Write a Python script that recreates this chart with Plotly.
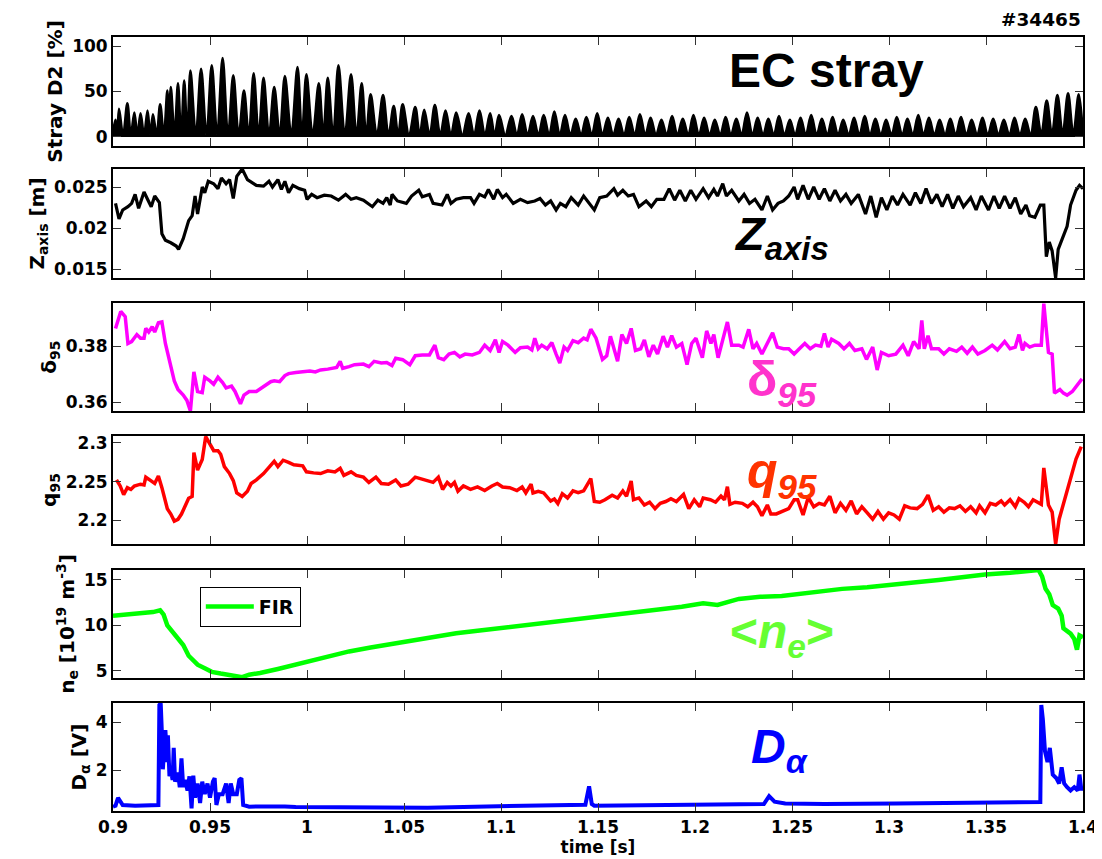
import plotly.graph_objects as go
from plotly.subplots import make_subplots

FONT = "Liberation Sans, Arial, sans-serif"
AXFONT = "DejaVu Sans, Verdana, sans-serif"

# ---------------- data ----------------
x_tick_vals = [0.9, 0.95, 1.0, 1.05, 1.1, 1.15, 1.2, 1.25, 1.3, 1.35, 1.4]
x_tick_text = ["0.9", "0.95", "1", "1.05", "1.1", "1.15", "1.2", "1.25", "1.3", "1.35", "1.4"]

# EC stray D2 [%]
stray_t = [
    0.9000, 0.9013, 0.9022, 0.9031, 0.9052, 0.9074, 0.9092, 0.9110, 0.9126, 0.9142,
    0.9160, 0.9178, 0.9192, 0.9206, 0.9225, 0.9243, 0.9262, 0.9280, 0.9289, 0.9298,
    0.9317, 0.9335, 0.9351, 0.9367, 0.9383, 0.9399, 0.9427, 0.9454, 0.9482, 0.9509,
    0.9537, 0.9565, 0.9593, 0.9620, 0.9648, 0.9675, 0.9700, 0.9725, 0.9751, 0.9776,
    0.9804, 0.9831, 0.9859, 0.9886, 0.9919, 0.9951, 0.9974, 0.9997, 1.0029, 1.0061,
    1.0084, 1.0107, 1.0135, 1.0162, 1.0195, 1.0227, 1.0255, 1.0282, 1.0305, 1.0328,
    1.0360, 1.0392, 1.0420, 1.0447, 1.0470, 1.0493, 1.0526, 1.0558, 1.0581, 1.0604,
    1.0632, 1.0659, 1.0687, 1.0714, 1.0742, 1.0769, 1.0801, 1.0833, 1.0861, 1.0889,
    1.0917, 1.0944, 1.0967, 1.0990, 1.1022, 1.1054, 1.1082, 1.1109, 1.1137, 1.1165,
    1.1193, 1.1220, 1.1248, 1.1275, 1.1303, 1.1330, 1.1358, 1.1385, 1.1413, 1.1440,
    1.1468, 1.1496, 1.1523, 1.1551, 1.1578, 1.1606, 1.1634, 1.1661, 1.1689, 1.1716,
    1.1744, 1.1771, 1.1799, 1.1827, 1.1854, 1.1882, 1.1909, 1.1937, 1.1965, 1.1992,
    1.2020, 1.2047, 1.2075, 1.2102, 1.2130, 1.2158, 1.2185, 1.2213, 1.2240, 1.2268,
    1.2296, 1.2323, 1.2351, 1.2378, 1.2406, 1.2433, 1.2461, 1.2489, 1.2516, 1.2544,
    1.2571, 1.2599, 1.2627, 1.2654, 1.2682, 1.2709, 1.2737, 1.2764, 1.2792, 1.2820,
    1.2847, 1.2875, 1.2902, 1.2930, 1.2958, 1.2985, 1.3013, 1.3040, 1.3068, 1.3095,
    1.3123, 1.3151, 1.3178, 1.3206, 1.3234, 1.3261, 1.3289, 1.3316, 1.3344, 1.3371,
    1.3399, 1.3426, 1.3454, 1.3482, 1.3509, 1.3537, 1.3564, 1.3592, 1.3620, 1.3647,
    1.3675, 1.3702, 1.3730, 1.3757, 1.3785, 1.3813, 1.3840, 1.3868, 1.3895, 1.3923,
    1.3950, 1.3978, 1.4000,
]
stray_v = [
    5, 19, 3, 31, 2, 37, 2, 27, 2, 26,
    2, 29, 2, 25, 2, 36, 2, 51, 8, 55,
    3, 59, 2, 62, 2, 73, 2, 75, 2, 79,
    2, 87, 2, 68, 2, 51, 2, 70, 2, 65,
    2, 55, 2, 67, 2, 77, 2, 69, 2, 59,
    2, 65, 2, 79, 2, 69, 2, 59, 2, 47,
    2, 46, 2, 34, 2, 36, 2, 33, 2, 30,
    2, 35, 2, 29, 2, 27, 2, 26, 2, 29,
    2, 26, 2, 24, 2, 23, 2, 25, 2, 23,
    2, 24, 2, 28, 2, 24, 2, 20, 2, 22,
    2, 26, 2, 21, 2, 20, 2, 22, 2, 25,
    2, 21, 2, 19, 2, 23, 2, 20, 2, 24,
    2, 21, 2, 19, 2, 22, 2, 20, 2, 27,
    2, 21, 2, 20, 2, 23, 2, 19, 2, 21,
    2, 24, 2, 20, 2, 22, 2, 19, 2, 21,
    2, 23, 2, 20, 2, 19, 2, 22, 2, 20,
    2, 24, 2, 21, 2, 19, 2, 20, 2, 22,
    2, 19, 2, 21, 2, 20, 2, 19, 2, 21,
    2, 20, 2, 33, 3, 40, 3, 46, 3, 48,
    3, 47, 2,
]

# Z_axis [m]
z_t = [
    0.9013, 0.9031, 0.9050, 0.9077, 0.9096, 0.9114, 0.9132, 0.9160, 0.9178, 0.9197,
    0.9215, 0.9239, 0.9252, 0.9270, 0.9298, 0.9326, 0.9338, 0.9362, 0.9390, 0.9408,
    0.9423, 0.9436, 0.9460, 0.9473, 0.9491, 0.9519, 0.9541, 0.9559, 0.9583, 0.9601,
    0.9620, 0.9638, 0.9666, 0.9693, 0.9739, 0.9776, 0.9804, 0.9822, 0.9850, 0.9868,
    0.9886, 0.9905, 0.9927, 0.9960, 0.9988, 1.0000, 1.0024, 1.0052, 1.0089, 1.0125,
    1.0162, 1.0199, 1.0227, 1.0254, 1.0291, 1.0337, 1.0365, 1.0392, 1.0411, 1.0429,
    1.0438, 1.0466, 1.0512, 1.0539, 1.0576, 1.0594, 1.0631, 1.0650, 1.0696, 1.0723,
    1.0742, 1.0769, 1.0806, 1.0843, 1.0861, 1.0889, 1.0916, 1.0935, 1.0962, 1.0981,
    1.1008, 1.1027, 1.1063, 1.1100, 1.1137, 1.1174, 1.1201, 1.1229, 1.1256, 1.1284,
    1.1306, 1.1334, 1.1362, 1.1398, 1.1426, 1.1454, 1.1481, 1.1509, 1.1545, 1.1582,
    1.1601, 1.1628, 1.1656, 1.1683, 1.1711, 1.1748, 1.1775, 1.1803, 1.1840, 1.1867,
    1.1895, 1.1922, 1.1950, 1.1978, 1.2005, 1.2042, 1.2070, 1.2097, 1.2116, 1.2143,
    1.2162, 1.2189, 1.2226, 1.2253, 1.2281, 1.2309, 1.2345, 1.2373, 1.2400, 1.2428,
    1.2456, 1.2483, 1.2511, 1.2529, 1.2557, 1.2584, 1.2612, 1.2640, 1.2667, 1.2695,
    1.2722, 1.2750, 1.2778, 1.2805, 1.2842, 1.2879, 1.2906, 1.2934, 1.2961, 1.2989,
    1.3017, 1.3044, 1.3072, 1.3109, 1.3136, 1.3164, 1.3191, 1.3219, 1.3247, 1.3274,
    1.3302, 1.3329, 1.3357, 1.3384, 1.3421, 1.3449, 1.3476, 1.3513, 1.3541, 1.3568,
    1.3596, 1.3624, 1.3651, 1.3679, 1.3706, 1.3725, 1.3752, 1.3780, 1.3798, 1.3811,
    1.3826, 1.3841, 1.3859, 1.3872, 1.3899, 1.3918, 1.3936, 1.3964, 1.3982, 1.4000,
]
z_v = [
    0.0230, 0.0211, 0.0222, 0.0226, 0.0230, 0.0241, 0.0224, 0.0244, 0.0235, 0.0226,
    0.0239, 0.0231, 0.0193, 0.0185, 0.0182, 0.0178, 0.0174, 0.0187, 0.0209, 0.0215,
    0.0239, 0.0217, 0.0250, 0.0243, 0.0257, 0.0254, 0.0248, 0.0261, 0.0254, 0.0259,
    0.0236, 0.0263, 0.0272, 0.0259, 0.0252, 0.0251, 0.0257, 0.0250, 0.0259, 0.0247,
    0.0257, 0.0243, 0.0252, 0.0248, 0.0246, 0.0235, 0.0241, 0.0237, 0.0240, 0.0239,
    0.0234, 0.0241, 0.0235, 0.0237, 0.0234, 0.0226, 0.0234, 0.0230, 0.0237, 0.0228,
    0.0241, 0.0233, 0.0230, 0.0239, 0.0246, 0.0238, 0.0241, 0.0230, 0.0228, 0.0241,
    0.0230, 0.0235, 0.0237, 0.0237, 0.0230, 0.0241, 0.0238, 0.0247, 0.0235, 0.0247,
    0.0237, 0.0241, 0.0230, 0.0235, 0.0231, 0.0233, 0.0236, 0.0228, 0.0233, 0.0222,
    0.0230, 0.0226, 0.0237, 0.0228, 0.0239, 0.0230, 0.0222, 0.0237, 0.0239, 0.0248,
    0.0240, 0.0246, 0.0239, 0.0241, 0.0226, 0.0233, 0.0226, 0.0235, 0.0235, 0.0248,
    0.0234, 0.0246, 0.0233, 0.0246, 0.0235, 0.0248, 0.0237, 0.0247, 0.0239, 0.0254,
    0.0239, 0.0246, 0.0233, 0.0241, 0.0230, 0.0235, 0.0222, 0.0239, 0.0222, 0.0230,
    0.0233, 0.0239, 0.0250, 0.0235, 0.0252, 0.0235, 0.0250, 0.0235, 0.0248, 0.0233,
    0.0246, 0.0233, 0.0241, 0.0230, 0.0241, 0.0217, 0.0239, 0.0213, 0.0237, 0.0222,
    0.0239, 0.0228, 0.0241, 0.0228, 0.0243, 0.0230, 0.0248, 0.0230, 0.0241, 0.0226,
    0.0241, 0.0224, 0.0239, 0.0226, 0.0237, 0.0222, 0.0239, 0.0222, 0.0239, 0.0224,
    0.0239, 0.0224, 0.0237, 0.0217, 0.0228, 0.0215, 0.0213, 0.0228, 0.0228, 0.0165,
    0.0183, 0.0172, 0.0139, 0.0174, 0.0191, 0.0202, 0.0228, 0.0246, 0.0252, 0.0248,
]

# delta_95
d95_t = [
    0.9013, 0.9040, 0.9063, 0.9077, 0.9096, 0.9123, 0.9142, 0.9160, 0.9169, 0.9184,
    0.9202, 0.9215, 0.9234, 0.9252, 0.9270, 0.9289, 0.9316, 0.9335, 0.9362, 0.9381,
    0.9399, 0.9417, 0.9436, 0.9460, 0.9473, 0.9500, 0.9519, 0.9541, 0.9565, 0.9583,
    0.9611, 0.9629, 0.9657, 0.9675, 0.9702, 0.9739, 0.9776, 0.9813, 0.9831, 0.9859,
    0.9886, 0.9905, 0.9942, 0.9978, 1.0015, 1.0043, 1.0070, 1.0107, 1.0153, 1.0171,
    1.0184, 1.0217, 1.0245, 1.0291, 1.0319, 1.0346, 1.0383, 1.0411, 1.0438, 1.0457,
    1.0493, 1.0530, 1.0558, 1.0594, 1.0631, 1.0659, 1.0677, 1.0705, 1.0732, 1.0760,
    1.0788, 1.0815, 1.0852, 1.0889, 1.0916, 1.0944, 1.0971, 1.0990, 1.1008, 1.1036,
    1.1073, 1.1100, 1.1137, 1.1159, 1.1174, 1.1192, 1.1210, 1.1238, 1.1262, 1.1284,
    1.1303, 1.1325, 1.1343, 1.1371, 1.1398, 1.1426, 1.1444, 1.1463, 1.1490, 1.1523,
    1.1545, 1.1564, 1.1601, 1.1623, 1.1647, 1.1671, 1.1693, 1.1720, 1.1739, 1.1762,
    1.1785, 1.1807, 1.1836, 1.1858, 1.1880, 1.1904, 1.1932, 1.1959, 1.1983, 1.2005,
    1.2038, 1.2060, 1.2082, 1.2097, 1.2119, 1.2143, 1.2167, 1.2189, 1.2226, 1.2248,
    1.2277, 1.2299, 1.2318, 1.2345, 1.2373, 1.2400, 1.2424, 1.2456, 1.2483, 1.2511,
    1.2538, 1.2566, 1.2594, 1.2621, 1.2649, 1.2667, 1.2686, 1.2704, 1.2741, 1.2768,
    1.2796, 1.2824, 1.2860, 1.2884, 1.2916, 1.2939, 1.2961, 1.2998, 1.3035, 1.3072,
    1.3099, 1.3127, 1.3155, 1.3169, 1.3182, 1.3201, 1.3219, 1.3256, 1.3283, 1.3311,
    1.3348, 1.3375, 1.3403, 1.3430, 1.3458, 1.3495, 1.3532, 1.3559, 1.3596, 1.3624,
    1.3651, 1.3670, 1.3688, 1.3701, 1.3725, 1.3752, 1.3785, 1.3798, 1.3822, 1.3841,
    1.3853, 1.3881, 1.3899, 1.3918, 1.3945, 1.3973, 1.3995,
]
d95_v = [
    0.3864, 0.3925, 0.3906, 0.3810, 0.3817, 0.3842, 0.3829, 0.3829, 0.3864, 0.3851,
    0.3870, 0.3851, 0.3884, 0.3887, 0.3810, 0.3753, 0.3676, 0.3645, 0.3625, 0.3606,
    0.3568, 0.3708, 0.3638, 0.3634, 0.3689, 0.3676, 0.3664, 0.3689, 0.3670, 0.3651,
    0.3657, 0.3638, 0.3594, 0.3625, 0.3638, 0.3638, 0.3657, 0.3673, 0.3676, 0.3673,
    0.3695, 0.3702, 0.3706, 0.3708, 0.3711, 0.3708, 0.3715, 0.3718, 0.3724, 0.3746,
    0.3721, 0.3727, 0.3734, 0.3736, 0.3727, 0.3746, 0.3740, 0.3742, 0.3731, 0.3757,
    0.3752, 0.3734, 0.3766, 0.3769, 0.3769, 0.3804, 0.3759, 0.3752, 0.3772, 0.3778,
    0.3762, 0.3772, 0.3769, 0.3778, 0.3804, 0.3785, 0.3823, 0.3778, 0.3817, 0.3804,
    0.3778, 0.3795, 0.3797, 0.3787, 0.3829, 0.3791, 0.3804, 0.3791, 0.3813, 0.3772,
    0.3740, 0.3797, 0.3785, 0.3820, 0.3813, 0.3829, 0.3823, 0.3861, 0.3829, 0.3753,
    0.3766, 0.3836, 0.3746, 0.3842, 0.3810, 0.3864, 0.3785, 0.3791, 0.3823, 0.3762,
    0.3804, 0.3772, 0.3836, 0.3797, 0.3838, 0.3797, 0.3810, 0.3734, 0.3810, 0.3829,
    0.3759, 0.3855, 0.3810, 0.3842, 0.3759, 0.3823, 0.3887, 0.3804, 0.3804, 0.3797,
    0.3861, 0.3791, 0.3810, 0.3772, 0.3810, 0.3848, 0.3797, 0.3791, 0.3791, 0.3772,
    0.3791, 0.3810, 0.3791, 0.3804, 0.3800, 0.3846, 0.3797, 0.3825, 0.3810, 0.3791,
    0.3810, 0.3785, 0.3791, 0.3753, 0.3797, 0.3715, 0.3778, 0.3766, 0.3772, 0.3804,
    0.3766, 0.3817, 0.3791, 0.3893, 0.3791, 0.3838, 0.3791, 0.3791, 0.3772, 0.3791,
    0.3782, 0.3797, 0.3775, 0.3797, 0.3772, 0.3785, 0.3804, 0.3787, 0.3817, 0.3791,
    0.3797, 0.3842, 0.3785, 0.3810, 0.3797, 0.3804, 0.3804, 0.3953, 0.3778, 0.3772,
    0.3632, 0.3645, 0.3632, 0.3625, 0.3638, 0.3664, 0.3683,
]

# q_95
q95_t = [
    0.9018, 0.9037, 0.9055, 0.9074, 0.9092, 0.9110, 0.9142, 0.9160, 0.9169, 0.9197,
    0.9215, 0.9234, 0.9252, 0.9280, 0.9298, 0.9316, 0.9335, 0.9353, 0.9371, 0.9390,
    0.9408, 0.9417, 0.9436, 0.9460, 0.9478, 0.9500, 0.9519, 0.9541, 0.9555, 0.9574,
    0.9601, 0.9620, 0.9638, 0.9666, 0.9693, 0.9712, 0.9739, 0.9776, 0.9804, 0.9831,
    0.9850, 0.9877, 0.9905, 0.9932, 0.9978, 0.9997, 1.0034, 1.0070, 1.0107, 1.0144,
    1.0171, 1.0190, 1.0227, 1.0254, 1.0291, 1.0319, 1.0355, 1.0383, 1.0420, 1.0457,
    1.0484, 1.0521, 1.0558, 1.0604, 1.0650, 1.0677, 1.0699, 1.0723, 1.0742, 1.0760,
    1.0778, 1.0806, 1.0843, 1.0879, 1.0916, 1.0953, 1.0981, 1.1008, 1.1045, 1.1082,
    1.1109, 1.1128, 1.1155, 1.1165, 1.1192, 1.1220, 1.1256, 1.1275, 1.1293,
    1.1316, 1.1343, 1.1371, 1.1398, 1.1426, 1.1463, 1.1481, 1.1509, 1.1536, 1.1573,
    1.1601, 1.1628, 1.1647, 1.1671, 1.1683, 1.1711, 1.1739, 1.1766, 1.1794, 1.1821,
    1.1849, 1.1876, 1.1904, 1.1941, 1.1968, 1.1996, 1.2024, 1.2042, 1.2079, 1.2106,
    1.2134, 1.2152, 1.2167, 1.2180, 1.2207, 1.2244, 1.2272, 1.2299, 1.2322, 1.2345,
    1.2373, 1.2391, 1.2419, 1.2447, 1.2483, 1.2511, 1.2529, 1.2557, 1.2584, 1.2612,
    1.2640, 1.2667, 1.2695, 1.2722, 1.2750, 1.2778, 1.2805, 1.2833, 1.2860, 1.2888,
    1.2916, 1.2943, 1.2971, 1.2998, 1.3026, 1.3053, 1.3081, 1.3109, 1.3145, 1.3173,
    1.3201, 1.3228, 1.3256, 1.3283, 1.3311, 1.3338, 1.3366, 1.3394, 1.3421, 1.3449,
    1.3467, 1.3495, 1.3522, 1.3550, 1.3578, 1.3596, 1.3624, 1.3651, 1.3670, 1.3697,
    1.3719, 1.3743, 1.3771, 1.3785, 1.3798, 1.3822, 1.3841, 1.3859, 1.3877, 1.3899,
    1.3918, 1.3945, 1.3964, 1.3991,
]
q95_v = [
    2.2523, 2.2445, 2.2332, 2.2423, 2.2400, 2.2445, 2.2468, 2.2459, 2.2559, 2.2514,
    2.2477, 2.2573, 2.2423, 2.2150, 2.2082, 2.1991, 2.2014, 2.2082, 2.2173, 2.2286,
    2.2309, 2.2877, 2.2650, 2.2786, 2.3082, 2.2991, 2.2900, 2.2900, 2.2855, 2.2695,
    2.2605, 2.2514, 2.2355, 2.2309, 2.2377, 2.2477, 2.2523, 2.2605, 2.2695, 2.2764,
    2.2695, 2.2777, 2.2750, 2.2718, 2.2705, 2.2627, 2.2614, 2.2605, 2.2641, 2.2627,
    2.2673, 2.2582, 2.2627, 2.2582, 2.2559, 2.2491, 2.2559, 2.2477, 2.2468, 2.2523,
    2.2445, 2.2468, 2.2559, 2.2523, 2.2491, 2.2559, 2.2400, 2.2491, 2.2445, 2.2491,
    2.2377, 2.2445, 2.2400, 2.2432, 2.2386, 2.2445, 2.2477, 2.2432, 2.2423, 2.2386,
    2.2432, 2.2355, 2.2468, 2.2355, 2.2377, 2.2355, 2.2250, 2.2277, 2.2218,
    2.2345, 2.2290, 2.2381, 2.2358, 2.2381, 2.2541, 2.2244, 2.2235, 2.2267, 2.2326,
    2.2290, 2.2381, 2.2313, 2.2509, 2.2267, 2.2290, 2.2199, 2.2235, 2.2153, 2.2221,
    2.2244, 2.2281, 2.2244, 2.2336, 2.2153, 2.2267, 2.2176, 2.2290, 2.2267, 2.2235,
    2.2313, 2.2267, 2.2436, 2.2208, 2.2235, 2.2221, 2.2176, 2.2235, 2.2176, 2.2062,
    2.2199, 2.2084, 2.2084, 2.2116, 2.2153, 2.2267, 2.2267, 2.2071, 2.2299, 2.2176,
    2.2221, 2.2199, 2.2313, 2.2098, 2.2221, 2.2130, 2.2253, 2.2084, 2.2176, 2.2098,
    2.2016, 2.2116, 2.2016, 2.2098, 2.2071, 2.2016, 2.2189, 2.2162, 2.2153, 2.2208,
    2.2326, 2.2130, 2.2176, 2.2107, 2.2162, 2.2153, 2.2189, 2.2116, 2.2176, 2.2098,
    2.2189, 2.2098, 2.2221, 2.2199, 2.2253, 2.2199, 2.2267, 2.2176, 2.2281, 2.2235,
    2.2176, 2.2267, 2.2235, 2.2208, 2.2678, 2.2199, 2.2107, 2.1696, 2.2016, 2.2221,
    2.2404, 2.2655, 2.2792, 2.2952,
]

# line-averaged density n_e (FIR) [1e19 m^-3]
ne_t = [
    0.9000, 0.9077, 0.9151, 0.9206, 0.9243, 0.9261, 0.9280, 0.9316, 0.9335, 0.9362,
    0.9390, 0.9436, 0.9473, 0.9509, 0.9555, 0.9601, 0.9629, 0.9666, 0.9702, 0.9758,
    0.9850, 0.9942, 1.0034, 1.0125, 1.0217, 1.0328, 1.0438, 1.0548, 1.0659, 1.0769,
    1.0879, 1.0990, 1.1100, 1.1210, 1.1284,
    1.1435, 1.1564, 1.1674, 1.1803, 1.1932, 1.2042, 1.2116, 1.2226, 1.2336, 1.2447,
    1.2520, 1.2630, 1.2759, 1.2888, 1.2998, 1.3127, 1.3256, 1.3366, 1.3495, 1.3624,
    1.3697, 1.3771, 1.3789, 1.3807, 1.3826, 1.3844, 1.3872, 1.3890, 1.3899, 1.3918,
    1.3936, 1.3955, 1.3969, 1.3982, 1.4000,
]
ne_v = [
    11.06, 11.18, 11.26, 11.46, 11.65, 11.18, 10.00, 9.02, 8.43, 7.83,
    6.65, 5.67, 5.28, 4.88, 4.69, 4.49, 4.41, 4.29, 4.57, 4.76,
    5.20, 5.67, 6.14, 6.65, 7.13, 7.56, 7.95, 8.43, 8.82, 9.13,
    9.41, 9.69, 9.92, 10.28, 10.47,
    10.87, 11.14, 11.46, 11.73, 12.05, 12.44, 12.24, 12.91, 13.15, 13.23,
    13.43, 13.70, 14.02, 14.21, 14.49, 14.72, 15.00, 15.28, 15.59, 15.79,
    15.91, 16.10, 15.39, 14.02, 13.43, 12.24, 11.85, 11.06, 9.69, 9.37,
    9.09, 8.50, 7.32, 8.89, 8.70,
]

# D_alpha [V]
da_t = [
    0.9000, 0.9013, 0.9026, 0.9037, 0.9050, 0.9114, 0.9188, 0.9234, 0.9239, 0.9246,
    0.9252, 0.9257, 0.9265, 0.9270, 0.9280, 0.9283, 0.9291, 0.9298, 0.9307, 0.9313,
    0.9320, 0.9335, 0.9344, 0.9353, 0.9362, 0.9371, 0.9384, 0.9394, 0.9405, 0.9414,
    0.9423, 0.9436, 0.9449, 0.9460, 0.9473, 0.9487, 0.9500, 0.9515, 0.9524, 0.9533,
    0.9546, 0.9565, 0.9583, 0.9596, 0.9607, 0.9620, 0.9638, 0.9651, 0.9662, 0.9671,
    0.9702, 0.9813, 0.9886, 0.9942, 1.0070, 1.0217, 1.0438, 1.0622, 1.0806, 1.0990,
    1.1174, 1.1284,
    1.1380, 1.1435, 1.1454, 1.1468, 1.1481, 1.1748, 1.2116, 1.2355, 1.2382, 1.2410,
    1.2465, 1.2667, 1.3035, 1.3403, 1.3780, 1.3785, 1.3793, 1.3804, 1.3817, 1.3829,
    1.3844, 1.3863, 1.3877, 1.3890, 1.3903, 1.3918, 1.3936, 1.3955, 1.3973, 1.3982,
    1.3991, 1.4000,
]
da_v = [
    0.49, 0.53, 0.86, 0.71, 0.56, 0.53, 0.53, 0.56, 4.71, 4.78,
    3.53, 2.04, 3.08, 3.67, 2.34, 3.45, 1.75, 2.04, 1.60, 2.93,
    1.53, 1.90, 1.30, 2.49, 1.30, 1.60, 1.16, 1.75, 0.42, 1.78,
    0.86, 1.45, 0.64, 1.53, 1.01, 1.45, 0.86, 1.53, 1.67, 0.56,
    1.01, 1.01, 1.45, 0.64, 1.45, 1.01, 1.01, 1.60, 1.67, 0.56,
    0.49, 0.52, 0.50, 0.48, 0.47, 0.45, 0.44, 0.45, 0.48, 0.50,
    0.53, 0.53,
    0.56, 0.57, 1.33, 0.60, 0.53, 0.55, 0.57, 0.60, 0.93, 0.70,
    0.62, 0.60, 0.62, 0.65, 0.68, 4.71, 4.12, 2.79, 2.34, 2.93,
    1.82, 1.67, 1.45, 2.12, 1.45, 1.30, 1.16, 1.30, 1.16, 1.82,
    1.23, 1.23,
]

y_tick_vals = [[0, 50, 100], [0.015, 0.02, 0.025], [0.36, 0.38], [2.2, 2.25, 2.3], [5, 10, 15], [2, 4]]
y_tick_text = [["0", "50", "100"], ["0.015", "0.02", "0.025"], ["0.36", "0.38"], ["2.2", "2.25", "2.3"], ["5", "10", "15"], ["2", "4"]]

# ---------------- figure ----------------
fig = make_subplots(rows=6, cols=1, shared_xaxes=True, vertical_spacing=0.02)

fig.add_trace(go.Scatter(x=stray_t, y=stray_v, mode="lines", fill="tozeroy", fillcolor="black",
                         line=dict(color="black", width=2.5, shape="spline", smoothing=1.0),
                         showlegend=False), row=1, col=1)
fig.add_trace(go.Scatter(x=z_t, y=z_v, mode="lines", line=dict(color="black", width=3.2),
                         showlegend=False), row=2, col=1)
fig.add_trace(go.Scatter(x=d95_t, y=d95_v, mode="lines", line=dict(color="#ff00ff", width=3.5),
                         showlegend=False), row=3, col=1)
fig.add_trace(go.Scatter(x=q95_t, y=q95_v, mode="lines", line=dict(color="#ff0000", width=3.5),
                         showlegend=False), row=4, col=1)
fig.add_trace(go.Scatter(x=ne_t, y=ne_v, mode="lines", name="FIR", line=dict(color="#00ff00", width=4.5),
                         showlegend=True), row=5, col=1)
fig.add_trace(go.Scatter(x=da_t, y=da_v, mode="lines", line=dict(color="#0000ff", width=4),
                         showlegend=False), row=6, col=1)

domains = [[0.8592, 1.0], [0.6886, 0.8295], [0.5168, 0.6563], [0.3450, 0.4845], [0.1718, 0.3114], [0.0, 0.1395]]
y_ranges = [[-10, 110], [0.0139, 0.0272], [0.3568, 0.3955], [2.1696, 2.309], [4.2, 16.1], [0.31, 4.79]]
y_titles = ["Stray D2 [%]", "Z<sub>axis</sub> [m]", "δ<sub>95</sub>", "q<sub>95</sub>",
            "n<sub>e</sub> [10<sup>19</sup> m<sup>-3</sup>]", "D<sub>α</sub> [V]"]

tick_font = dict(family=AXFONT, size=17, color="black", weight="bold")
title_font = dict(family=AXFONT, size=20, color="black", weight="bold")
common = dict(showline=True, linecolor="black", linewidth=1.8, mirror="ticks", ticks="inside",
              ticklen=8, tickwidth=1.2, tickcolor="#333333", showgrid=False, zeroline=False,
              tickfont=tick_font)

for i in range(6):
    r = i + 1
    fig.update_yaxes(row=r, col=1, domain=domains[i], range=y_ranges[i],
                     tickmode="array", tickvals=y_tick_vals[i], ticktext=y_tick_text[i],
                     title=dict(text=y_titles[i], font=title_font, standoff=4),
                     **common)
    fig.update_xaxes(row=r, col=1, range=[0.9, 1.4], tickmode="array", tickvals=x_tick_vals,
                     ticktext=x_tick_text, showticklabels=(r == 6), **common)

fig.update_xaxes(row=6, col=1, title=dict(text="time [s]", font=dict(family=AXFONT, size=17, color="black", weight="bold"),
                                          standoff=2))

def label(text, x, y, color, size, family=FONT, xanchor="left"):
    fig.add_annotation(xref="paper", yref="paper", x=x, y=y, text=text, showarrow=False,
                       xanchor=xanchor, yanchor="middle",
                       font=dict(family=family, size=size, color=color))

label("<b>EC stray</b>", 0.7356, 0.957, "black", 48, xanchor="center")
label("<b>#34465</b>", 0.9995, 1.023, "black", 18.5, family=AXFONT, xanchor="right")
label("<b><i>Z</i></b><sub><b><i>axis</i></b></sub>", 0.638, 0.742, "black", 47)
label("<b>δ</b><sub><b><i>95</i></b></sub>", 0.652, 0.554, "#ff33cc", 50)
label("<b><i>q</i></b><sub><b><i>95</i></b></sub>", 0.652, 0.435, "#ff3300", 50)
label("<b>&lt;<i>n</i></b><sub><b><i>e</i></b></sub><b>&gt;</b>", 0.634, 0.2280, "#66ff33", 48)
label("<b><i>D</i></b><sub><b><i>α</i></b></sub>", 0.656, 0.0790, "#0000ff", 48)

fig.update_layout(
    width=1102, height=859,
    margin=dict(l=105, r=25, t=29, b=56),
    paper_bgcolor="white", plot_bgcolor="white",
    font=dict(family=AXFONT, color="black"),
    legend=dict(x=0.0895, y=0.2900, xanchor="left", yanchor="top", bgcolor="white",
                bordercolor="black", borderwidth=1, itemwidth=48, tracegroupgap=0,
                font=dict(family=AXFONT, size=19, color="black", weight="bold")),
)

fig.write_html("out.html")
